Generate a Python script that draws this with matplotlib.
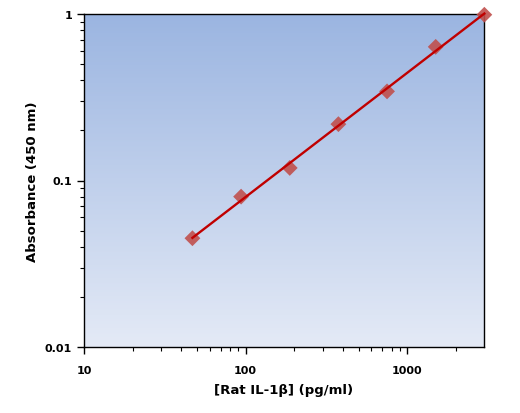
import numpy as np
import matplotlib.pyplot as plt
from matplotlib.colors import LinearSegmentedColormap

concentration = [46.875, 93.75, 187.5, 375, 750, 1500, 3000]
absorbance = [0.045, 0.080, 0.119, 0.218, 0.343, 0.635, 0.99]

y_ticks = [0.01, 0.1, 1]
y_tick_labels = ['0.01', '0.1', '1']
x_ticks = [10, 100, 1000]
x_tick_labels = ['10', '100', '1000']

fig = plt.figure(figsize=(5.2, 4.14), dpi=100)
ax = fig.add_axes([84 / 520, 66 / 414, 400 / 520, 333 / 414])

# background gradient, blue at top fading to pale at bottom
grad = LinearSegmentedColormap.from_list('bg', ['#e4eaf6', '#9bb5e1'])
ax.imshow(np.linspace(0, 1, 256).reshape(-1, 1), cmap=grad, aspect='auto',
          extent=[0, 1, 0, 1], transform=ax.transAxes, origin='lower', zorder=0)

# power fit through the standards
x = np.array(concentration)
y = np.array(absorbance)
slope, intercept = np.polyfit(np.log10(x), np.log10(y), 1)
xf = np.logspace(np.log10(x.min()), np.log10(x.max()), 50)
yf = 10 ** (intercept + slope * np.log10(xf))

ax.scatter(x, y, marker='D', s=65, color='#c0504d', alpha=0.9,
           edgecolors='none', zorder=3, clip_on=False)
ax.plot(xf, yf, color='#c00000', lw=1.7, zorder=4, clip_on=False)

ax.set_xscale('log')
ax.set_yscale('log')
ax.set_xlim(10, 2985)
ax.set_ylim(0.01, 1)
ax.set_xticks(x_ticks)
ax.set_xticklabels(x_tick_labels)
ax.set_yticks(y_ticks)
ax.set_yticklabels(y_tick_labels)

ax.tick_params(which='major', direction='out', length=5, width=1, labelsize=8)
ax.tick_params(which='minor', direction='out', length=3, width=0.8)
ax.tick_params(axis='x', pad=8)
for lab in ax.get_xticklabels() + ax.get_yticklabels():
    lab.set_fontweight('bold')
for s in ax.spines.values():
    s.set_linewidth(1)

ax.set_xlabel('[Rat IL-1β] (pg/ml)', fontsize=9.5, fontweight='bold', labelpad=6)
ax.set_ylabel('Absorbance (450 nm)', fontsize=9.5, fontweight='bold', labelpad=4)

fig.savefig('out.png', dpi=100)
